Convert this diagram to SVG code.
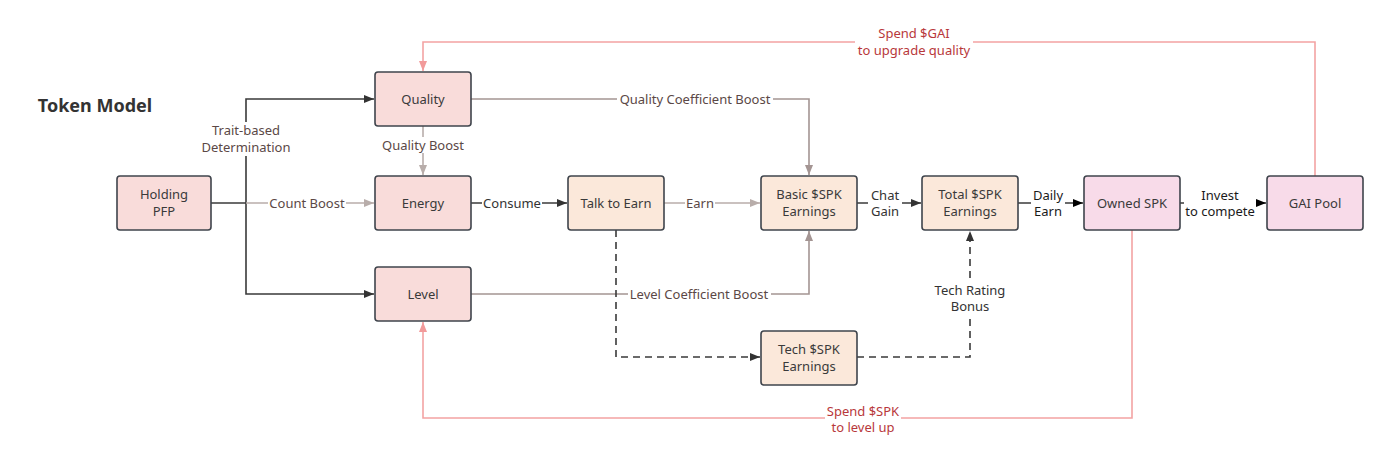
<svg xmlns="http://www.w3.org/2000/svg" width="1388" height="461" viewBox="0 0 1388 461">
<style>
.n rect{stroke:#3f444c;stroke-width:1.6}
.pk rect{fill:#f9dcda}
.or rect{fill:#fbe8da}
.pu rect{fill:#f8dbe9}
text{font-family:"Noto Sans","Open Sans","DejaVu Sans",sans-serif;font-size:13px;text-anchor:middle}
.nt{fill:#3a3a3a}
.lt{fill:#5b4846}
.lk{fill:#1a1a1a}
.lr{fill:#b8383b}
.c{fill:none;stroke-width:1.6}
.dk{stroke:#3a3a3a}
.lg{stroke:#b8adaa}
.br{stroke:#a49593}
.rd{stroke:#f3a3a3}
.ds{stroke-dasharray:7 5}
.bg{fill:#fff}
</style>
<defs>
<marker id="ad" markerWidth="10" markerHeight="8" refX="10" refY="4" orient="auto" markerUnits="userSpaceOnUse"><path d="M0,0 L10,4 L0,8 Z" fill="#333"/></marker>
<marker id="ag" markerWidth="10" markerHeight="8" refX="10" refY="4" orient="auto" markerUnits="userSpaceOnUse"><path d="M0,0 L10,4 L0,8 Z" fill="#b8adaa"/></marker>
<marker id="ab" markerWidth="10" markerHeight="8" refX="10" refY="4" orient="auto" markerUnits="userSpaceOnUse"><path d="M0,0 L10,4 L0,8 Z" fill="#a49593"/></marker>
<marker id="ar" markerWidth="10" markerHeight="8" refX="10" refY="4" orient="auto" markerUnits="userSpaceOnUse"><path d="M0,0 L10,4 L0,8 Z" fill="#f29a9a"/></marker>
<marker id="ak" markerWidth="10" markerHeight="8" refX="10" refY="4" orient="auto" markerUnits="userSpaceOnUse"><path d="M0,0 L10,4 L0,8 Z" fill="#000"/></marker>
</defs>
<rect width="1388" height="461" fill="#fff"/>
<text x="95" y="112" style="font-size:18px;font-weight:bold;fill:#333">Token Model</text>

<g id="connectors">
<path class="c dk" d="M211,203 H246"/>
<path class="c dk" d="M246,203 V99 H374" marker-end="url(#ad)"/>
<path class="c dk" d="M246,203 V294 H374" marker-end="url(#ad)"/>
<path class="c lg" d="M246,203 H374" marker-end="url(#ag)"/>
<path class="c lg" d="M423,126 V175" marker-end="url(#ag)"/>
<path class="c dk" d="M471,203 H567" marker-end="url(#ad)"/>
<path class="c lg" d="M664,203 H760" marker-end="url(#ag)"/>
<path class="c br" d="M471,99 H809 V175" marker-end="url(#ab)"/>
<path class="c br" d="M471,294 H809 V231" marker-end="url(#ab)"/>
<path class="c dk" d="M857,203 H921" marker-end="url(#ad)"/>
<path class="c dk" d="M1018,203 H1083" marker-end="url(#ak)"/>
<path class="c dk" d="M1180,203 H1266" marker-end="url(#ak)"/>
<path class="c dk ds" d="M616,230 V357 H760" marker-end="url(#ad)"/>
<path class="c dk ds" d="M857,357 H970 V231" marker-end="url(#ad)"/>
<path class="c rd" d="M1315,176 V42 H423 V71" marker-end="url(#ar)"/>
<path class="c rd" d="M1132,230 V418 H423 V322" marker-end="url(#ar)"/>

<rect class="bg" x="198" y="122" width="96" height="34"/>
<text class="lt" x="246" y="135">Trait-based</text>
<text class="lt" x="246" y="152">Determination</text>
<rect class="bg" x="268" y="195" width="78" height="16"/>
<text class="lt" x="307" y="208">Count Boost</text>
<rect class="bg" x="378" y="137" width="90" height="16"/>
<text class="lt" x="423" y="150">Quality Boost</text>
<rect class="bg" x="482" y="195" width="60" height="16"/>
<text class="lk" x="512" y="208" style="fill:#333">Consume</text>
<rect class="bg" x="685" y="195" width="30" height="16"/>
<text class="lt" x="700" y="208">Earn</text>
<rect class="bg" x="617" y="91" width="156" height="16"/>
<text class="lt" x="695" y="104">Quality Coefficient Boost</text>
<rect class="bg" x="628" y="286" width="143" height="16"/>
<text class="lt" x="699" y="299">Level Coefficient Boost</text>
<rect class="bg" x="868" y="187" width="34" height="34"/>
<text class="lt" x="885" y="200" style="fill:#333">Chat</text>
<text class="lt" x="885" y="216" style="fill:#333">Gain</text>
<rect class="bg" x="1031" y="187" width="34" height="34"/>
<text class="lk" x="1048" y="200">Daily</text>
<text class="lk" x="1048" y="216">Earn</text>
<rect class="bg" x="1184" y="187" width="72" height="34"/>
<text class="lk" x="1220" y="200">Invest</text>
<text class="lk" x="1220" y="216">to compete</text>
<rect class="bg" x="932" y="282" width="76" height="32"/>
<text class="lt" x="970" y="295" style="fill:#333">Tech Rating</text>
<text class="lt" x="970" y="311" style="fill:#333">Bonus</text>
<rect class="bg" x="855" y="26" width="118" height="32"/>
<text class="lr" x="914" y="38">Spend $GAI</text>
<text class="lr" x="914" y="55">to upgrade quality</text>
<rect class="bg" x="825" y="404" width="76" height="32"/>
<text class="lr" x="863" y="416">Spend $SPK</text>
<text class="lr" x="863" y="432">to level up</text>
</g>

<g id="holding" class="n pk"><rect x="117" y="176" width="94" height="54" rx="3"/><text class="nt" x="164" y="199">Holding</text><text class="nt" x="164" y="216">PFP</text></g>
<g id="quality" class="n pk"><rect x="375" y="72" width="96" height="54" rx="3"/><text class="nt" x="423" y="104">Quality</text></g>
<g id="energy" class="n pk"><rect x="375" y="176" width="96" height="54" rx="3"/><text class="nt" x="423" y="208">Energy</text></g>
<g id="level" class="n pk"><rect x="375" y="267" width="96" height="54" rx="3"/><text class="nt" x="423" y="299">Level</text></g>
<g id="talk" class="n or"><rect x="568" y="176" width="96" height="54" rx="3"/><text class="nt" x="616" y="208">Talk to Earn</text></g>
<g id="basic" class="n or"><rect x="761" y="176" width="96" height="54" rx="3"/><text class="nt" x="809" y="199">Basic $SPK</text><text class="nt" x="809" y="216">Earnings</text></g>
<g id="total" class="n or"><rect x="922" y="176" width="96" height="54" rx="3"/><text class="nt" x="970" y="199">Total $SPK</text><text class="nt" x="970" y="216">Earnings</text></g>
<g id="tech" class="n or"><rect x="761" y="331" width="96" height="54" rx="3"/><text class="nt" x="809" y="354">Tech $SPK</text><text class="nt" x="809" y="371">Earnings</text></g>
<g id="owned" class="n pu"><rect x="1084" y="176" width="96" height="54" rx="3"/><text class="nt" x="1132" y="208">Owned SPK</text></g>
<g id="gai" class="n pu"><rect x="1267" y="176" width="96" height="54" rx="3"/><text class="nt" x="1315" y="208">GAI Pool</text></g>
</svg>
